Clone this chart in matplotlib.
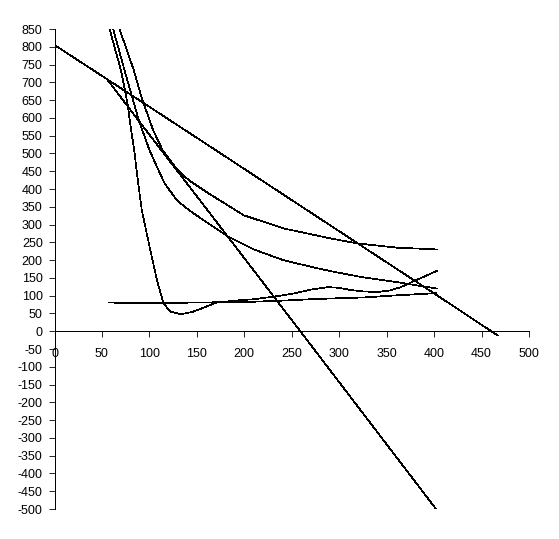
import matplotlib
matplotlib.use('Agg')
import matplotlib.pyplot as plt
import numpy as np

# values (quantity, price/cost)
demand_q = [0, 57, 154, 291, 415, 467]
demand_p = [805, 706, 537, 297, 80, -12]

mr_q = [55, 91, 168, 259, 402]
mr_p = [710, 584, 317, 0, -500]

mc_q = [58, 70, 77, 80, 84, 88, 92, 100, 108, 111, 115, 122, 133, 145, 157, 170, 190, 210,
        233, 250, 270, 288, 300, 312, 325, 340, 354, 365, 378, 390, 403]
mc_p = [850, 734, 640, 579, 509, 420, 340, 240, 143, 115, 78, 55, 48, 54, 66, 80, 86, 90,
        98, 105, 117, 124, 122, 116, 112, 110, 115, 124, 140, 154, 170]

avc_q = [61.8, 73.8, 81.8, 88.8, 100, 108, 116, 129, 142, 156, 183, 210, 241, 277, 291, 322, 361, 403]
avc_p = [850, 734, 659, 593, 510, 462, 416, 368, 340, 314, 266, 230, 200, 177, 169, 153, 138, 120]

atc_q = [68.5, 83.6, 92.4, 104, 114, 129, 141.5, 161, 199.5, 241.6, 290.8, 319, 361, 403]
atc_p = [850, 734, 652, 565, 509, 455, 425, 390, 326, 289, 261, 247, 235, 230]

afc_q = [57, 75, 100, 130, 160, 190, 210, 240, 270, 291, 326, 361, 402]
afc_p = [81, 79, 79, 80, 81, 82, 83, 86, 90, 92, 95, 101, 107]

x_ticks = np.arange(0, 501, 50)
y_ticks = np.arange(-500, 851, 50)

plt.rcParams['axes.unicode_minus'] = False
plt.rcParams['font.family'] = ['Liberation Sans', 'DejaVu Sans']

fig = plt.figure(figsize=(5.59, 5.39), dpi=100)
ax = fig.add_axes([54.5/559, 30/539, 474.5/559, 480/539])

for q, p in [(demand_q, demand_p), (mr_q, mr_p), (mc_q, mc_p),
             (avc_q, avc_p), (atc_q, atc_p), (afc_q, afc_p)]:
    ax.plot(q, p, color='black', lw=0.5, antialiased=False)

ax.set_xlim(0, 500)
ax.set_ylim(-500, 850)
ax.spines['left'].set_position(('data', 0))
ax.spines['bottom'].set_position(('data', 0))
ax.spines['top'].set_visible(False)
ax.spines['right'].set_visible(False)
for s in ('left', 'bottom'):
    ax.spines[s].set_linewidth(0.6)
    ax.spines[s].set_antialiased(False)

ax.set_xticks(x_ticks)
ax.set_yticks(y_ticks)
ax.set_xticklabels([str(v) for v in x_ticks])
ax.set_yticklabels([str(v) for v in y_ticks])
ax.tick_params(axis='x', direction='out', length=4, width=0.6, pad=8, labelsize=9)
ax.tick_params(axis='y', direction='out', length=4, width=0.6, pad=4.5, labelsize=9)

fig.savefig('out.png', dpi=100)
